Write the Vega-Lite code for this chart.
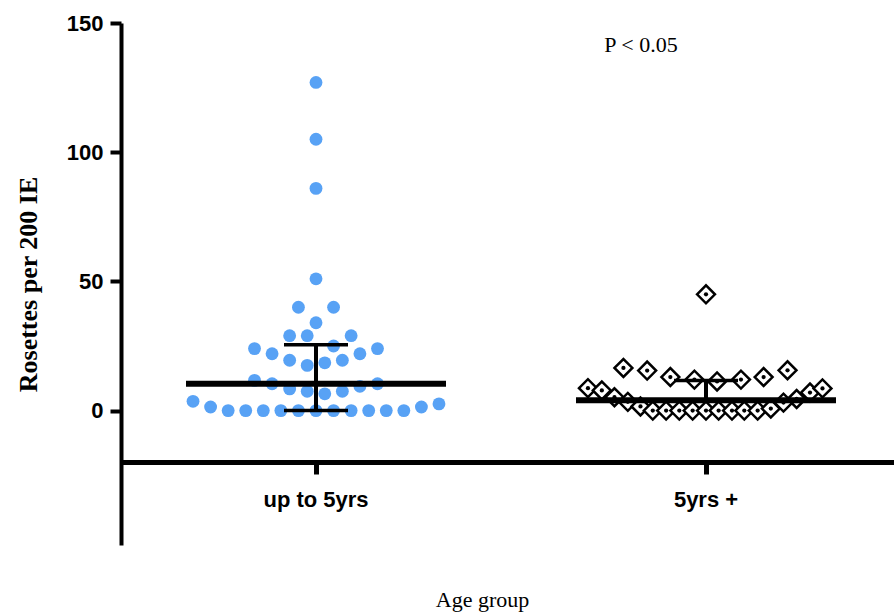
{
  "$schema": "https://vega.github.io/schema/vega-lite/v6.json",
  "width": 780,
  "height": 522,
  "autosize": "none",
  "padding": {"left": 121, "top": 23, "right": 0, "bottom": 70},
  "background": "white",
  "config": {"view": {"stroke": null}, "axis": {"grid": false}},
  "datasets": {
    "young": [
      {"value": 127, "slot": 0}, {"value": 105, "slot": 0}, {"value": 86, "slot": 0}, {"value": 51, "slot": 0},
      {"value": 40, "slot": -1}, {"value": 40, "slot": 1}, {"value": 34, "slot": 0},
      {"value": 29, "slot": -1.5}, {"value": 29, "slot": -0.5}, {"value": 29, "slot": 2}, {"value": 25, "slot": 1},
      {"value": 24, "slot": -3.5}, {"value": 24, "slot": 3.5}, {"value": 22, "slot": -2.5}, {"value": 22, "slot": 2.5},
      {"value": 19.5, "slot": -1.5}, {"value": 17.5, "slot": -0.5}, {"value": 18.5, "slot": 0.5}, {"value": 19.5, "slot": 1.5},
      {"value": 11.7, "slot": -3.5}, {"value": 10.4, "slot": -2.5}, {"value": 8.4, "slot": -1.5}, {"value": 7.5, "slot": -0.5},
      {"value": 6.5, "slot": 0.5}, {"value": 7.5, "slot": 1.5}, {"value": 9.4, "slot": 2.5}, {"value": 10.4, "slot": 3.5},
      {"value": 3.6, "slot": -7}, {"value": 1.4, "slot": -6},
      {"value": 0, "slot": -5}, {"value": 0, "slot": -4}, {"value": 0, "slot": -3}, {"value": 0, "slot": -2}, {"value": 0, "slot": -1},
      {"value": 0, "slot": 0}, {"value": 0, "slot": 1}, {"value": 0, "slot": 2}, {"value": 0, "slot": 3}, {"value": 0, "slot": 4}, {"value": 0, "slot": 5},
      {"value": 1.4, "slot": 6}, {"value": 2.6, "slot": 7}
    ],
    "old": [
      {"value": 45, "slot": 0}, {"value": 16.5, "slot": -4.7}, {"value": 15.5, "slot": -3.35}, {"value": 13, "slot": -2.03},
      {"value": 12, "slot": -0.66}, {"value": 11.3, "slot": 0.63}, {"value": 12, "slot": 1.99}, {"value": 13, "slot": 3.28},
      {"value": 15.6, "slot": 4.64}, {"value": 8.7, "slot": -6.72}, {"value": 7.8, "slot": -5.93}, {"value": 5.2, "slot": -5.21},
      {"value": 3.4, "slot": -4.45}, {"value": 1.6, "slot": -3.73},
      {"value": 0, "slot": -3.03}, {"value": 0, "slot": -2.27}, {"value": 0, "slot": -1.52}, {"value": 0, "slot": -0.76},
      {"value": 0, "slot": 0}, {"value": 0, "slot": 0.72}, {"value": 0, "slot": 1.48}, {"value": 0, "slot": 2.18}, {"value": 0, "slot": 2.94},
      {"value": 0.8, "slot": 3.69}, {"value": 3.1, "slot": 4.41}, {"value": 4.5, "slot": 5.16}, {"value": 7, "slot": 5.92}, {"value": 8.6, "slot": 6.63}
    ],
    "summary": [
      {"group": "up to 5yrs", "median": 10.4, "q1": 0, "q3": 25.5},
      {"group": "5yrs +", "median": 4, "q1": 4, "q3": 11.7}
    ]
  },
  "layer": [
    {
      "data": {"name": "young"},
      "transform": [{"calculate": "'up to 5yrs'", "as": "group"}],
      "mark": {"type": "circle", "size": 165, "color": "#58a2f5", "opacity": 1},
      "encoding": {
        "x": {
          "field": "group", "type": "nominal",
          "scale": {"domain": ["up to 5yrs", "5yrs +"], "paddingInner": 0, "paddingOuter": 0},
          "axis": {
            "title": "Age group", "titleFont": "Liberation Serif", "titleFontWeight": "normal", "titleFontSize": 22,
            "titleColor": "black", "titlePadding": 79, "titleX": 361, "titleAlign": "center",
            "labelFont": "Liberation Sans", "labelFontWeight": "bold", "labelFontSize": 22, "labelColor": "black",
            "labelAngle": 0, "labelPadding": 15,
            "domainColor": "black", "domainWidth": 5, "tickColor": "black", "tickWidth": 5, "tickSize": 12,
            "offset": -83
          }
        },
        "xOffset": {"field": "slot", "type": "quantitative", "scale": {"domain": [-11.1, 11.1], "nice": false, "zero": false}},
        "y": {
          "field": "value", "type": "quantitative", "title": "Rosettes per 200 IE",
          "scale": {"domain": [-52, 150], "nice": false, "zero": false},
          "axis": {
            "title": "Rosettes per 200 IE", "titleFont": "Liberation Serif", "titleFontWeight": "bold", "titleFontSize": 26,
            "titleColor": "black", "titleX": -93, "titleY": 261, "titleAngle": -90, "titleAlign": "center", "titleBaseline": "middle",
            "values": [0, 50, 100, 150], "labelFont": "Liberation Sans", "labelFontWeight": "bold", "labelFontSize": 22,
            "labelColor": "black", "labelPadding": 7, "labelFlush": false,
            "domainColor": "black", "domainWidth": 4, "tickColor": "black", "tickWidth": 4, "tickSize": 11
          }
        }
      }
    },
    {
      "data": {"name": "old"},
      "transform": [{"calculate": "'5yrs +'", "as": "group"}],
      "mark": {"type": "point", "shape": "diamond", "size": 320, "filled": true, "fill": "white", "stroke": "black", "strokeWidth": 2.5, "opacity": 1},
      "encoding": {
        "x": {"field": "group", "type": "nominal"},
        "xOffset": {"field": "slot", "type": "quantitative"},
        "y": {"field": "value", "type": "quantitative", "title": "Rosettes per 200 IE"}
      }
    },
    {
      "data": {"name": "old"},
      "transform": [{"calculate": "'5yrs +'", "as": "group"}],
      "mark": {"type": "circle", "size": 18, "color": "black", "opacity": 1},
      "encoding": {
        "x": {"field": "group", "type": "nominal"},
        "xOffset": {"field": "slot", "type": "quantitative"},
        "y": {"field": "value", "type": "quantitative", "title": "Rosettes per 200 IE"}
      }
    },
    {
      "data": {"name": "summary"},
      "mark": {"type": "rule", "color": "black", "strokeWidth": 4},
      "encoding": {
        "x": {"field": "group", "type": "nominal"},
        "y": {"field": "q1", "type": "quantitative", "title": "Rosettes per 200 IE"},
        "y2": {"field": "q3"}
      }
    },
    {
      "data": {"name": "summary"},
      "mark": {"type": "tick", "color": "black", "size": 64, "thickness": 3.5, "opacity": 1},
      "encoding": {
        "x": {"field": "group", "type": "nominal"},
        "y": {"field": "q3", "type": "quantitative", "title": "Rosettes per 200 IE"}
      }
    },
    {
      "data": {"name": "summary"},
      "mark": {"type": "tick", "color": "black", "size": 64, "thickness": 3.5, "opacity": 1},
      "encoding": {
        "x": {"field": "group", "type": "nominal"},
        "y": {"field": "q1", "type": "quantitative", "title": "Rosettes per 200 IE"}
      }
    },
    {
      "data": {"name": "summary"},
      "mark": {"type": "tick", "color": "black", "size": 260, "thickness": 6, "opacity": 1},
      "encoding": {
        "x": {"field": "group", "type": "nominal"},
        "y": {"field": "median", "type": "quantitative", "title": "Rosettes per 200 IE"}
      }
    },
    {
      "data": {"values": [{"label": "P < 0.05"}]},
      "mark": {"type": "text", "font": "Liberation Serif", "fontSize": 22, "color": "black", "align": "center", "baseline": "middle"},
      "encoding": {
        "x": {"datum": "5yrs +", "type": "nominal"},
        "xOffset": {"datum": -3.7, "type": "quantitative"},
        "y": {"datum": 141.5, "type": "quantitative", "title": "Rosettes per 200 IE"},
        "text": {"field": "label"}
      }
    }
  ]
}
